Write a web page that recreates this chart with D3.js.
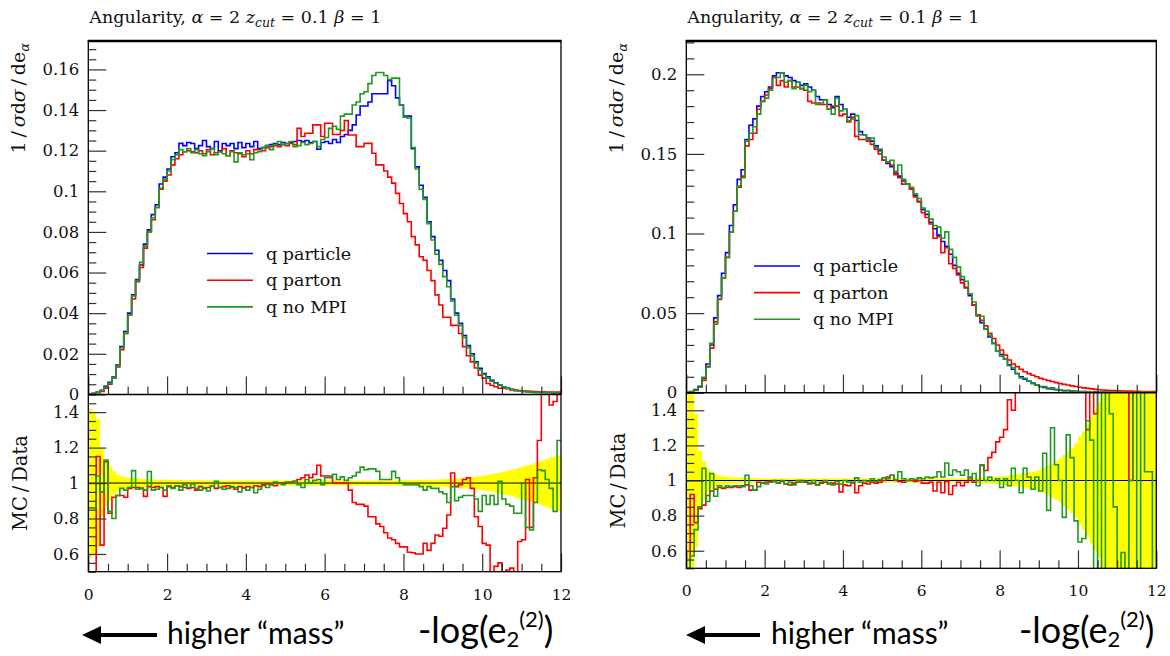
<!DOCTYPE html>
<html><head><meta charset="utf-8">
<script src="https://cdnjs.cloudflare.com/ajax/libs/d3/7.8.5/d3.min.js"></script>
<style>body{margin:0;background:#fff}svg{display:block}</style>
</head><body>
<svg id="chart" width="1170" height="656"></svg>
<script>
// ---------------- data ----------------
const xTickLabels = ["0","2","4","6","8","10","12"];
const legendLabels = ["q particle","q parton","q no MPI"];
const ratioTickValues = [0.6, 0.8, 1, 1.2, 1.4];
const leftMainTickValues = [0, 0.02, 0.04, 0.06, 0.08, 0.1, 0.12, 0.14, 0.16];
const rightMainTickValues = [0, 0.05, 0.1, 0.15, 0.2];

// left panel (120 bins of width 0.1 from 0 to 12)
const leftBlue = [
0.0003,0.0005,0.001,0.002,0.004,0.006,0.0085,0.0145,0.0235,0.031,
0.040,0.049,0.0566,0.0637,0.074,0.081,0.0885,0.0934,0.1036,0.107,
0.111,0.117,0.119,0.1236,0.1225,0.124,0.1235,0.121,0.1225,0.125,
0.122,0.121,0.1245,0.120,0.1235,0.1225,0.1235,0.121,0.124,0.1215,
0.1235,0.122,0.1245,0.121,0.1215,0.1225,0.123,0.1235,0.123,0.124,
0.1235,0.124,0.1245,0.125,0.1245,0.125,0.124,0.1245,0.1207,0.124,
0.1245,0.1235,0.1255,0.124,0.127,0.128,0.130,0.1327,0.1376,0.142,
0.142,0.144,0.148,0.148,0.148,0.148,0.1545,0.152,0.146,0.1425,
0.137,0.137,0.121,0.112,0.103,0.097,0.085,0.0777,0.071,0.066,
0.061,0.056,0.047,0.040,0.035,0.029,0.024,0.020,0.016,0.0128,
0.0103,0.0087,0.007,0.0057,0.0046,0.0038,0.003,0.0025,0.002,0.0018,
0.0015,0.0013,0.0012,0.001,0.001,0.0009,0.0008,0.0008,0.0007,0.0007];
const leftRed = [
0.0002,0.0004,0.001,0.0015,0.003,0.005,0.008,0.0135,0.022,0.030,
0.039,0.047,0.0555,0.0625,0.072,0.080,0.086,0.092,0.101,0.105,
0.108,0.113,0.116,0.118,0.1195,0.120,0.1195,0.119,0.120,0.1185,
0.1205,0.118,0.119,0.1195,0.121,0.1175,0.120,0.119,0.1185,0.117,
0.120,0.1185,0.1205,0.1205,0.120,0.1215,0.122,0.1225,0.122,0.123,
0.1225,0.1235,0.123,0.131,0.127,0.1286,0.1286,0.1327,0.1327,0.127,
0.1335,0.1335,0.128,0.128,0.130,0.1348,0.1277,0.1277,0.122,0.122,
0.1236,0.1236,0.1187,0.113,0.113,0.110,0.107,0.104,0.099,0.094,
0.089,0.085,0.0777,0.0736,0.0678,0.066,0.061,0.056,0.049,0.044,
0.038,0.038,0.034,0.034,0.030,0.0235,0.019,0.016,0.013,0.0095,
0.008,0.0054,0.0045,0.0038,0.003,0.003,0.0028,0.0022,0.002,0.0019,
0.0017,0.0016,0.0015,0.0014,0.0013,0.0013,0.0012,0.0012,0.0011,0.0011];
const leftGreen = [
0.0002,0.0004,0.001,0.0018,0.0035,0.0055,0.008,0.014,0.023,0.030,
0.039,0.0485,0.056,0.065,0.073,0.080,0.087,0.092,0.1015,0.106,
0.110,0.1155,0.118,0.1205,0.1195,0.121,0.119,0.1205,0.1185,0.1175,
0.1195,0.121,0.118,0.1195,0.1185,0.1175,0.1195,0.1145,0.119,0.118,
0.1185,0.1155,0.119,0.1195,0.1215,0.1225,0.1205,0.123,0.1245,0.123,
0.1235,0.1245,0.122,0.1225,0.124,0.123,0.1235,0.1245,0.122,0.1255,
0.1265,0.131,0.132,0.1305,0.137,0.138,0.138,0.1425,0.144,0.148,
0.149,0.153,0.157,0.1585,0.1585,0.157,0.155,0.1557,0.1557,0.1425,
0.1365,0.136,0.1215,0.111,0.101,0.096,0.084,0.076,0.069,0.064,
0.058,0.053,0.046,0.039,0.034,0.028,0.023,0.019,0.0155,0.012,
0.0098,0.008,0.0065,0.0055,0.0045,0.0037,0.003,0.0025,0.002,0.0018,
0.0015,0.0013,0.0012,0.0011,0.001,0.0009,0.0009,0.0008,0.0008,0.0007];
const leftRatioRed = [
0.45,0.45,1.15,0.65,1.12,0.83,0.92,0.93,0.93,0.92,
0.97,0.975,0.975,0.97,0.925,0.98,0.975,0.98,0.975,0.925,
0.98,0.975,0.985,0.98,0.975,0.97,0.975,0.96,0.98,0.97,
0.975,0.985,0.97,0.975,0.98,0.985,0.975,0.965,0.98,0.975,
0.98,0.975,0.985,0.98,0.99,0.995,0.99,0.985,1.0,1.0,
1.0,1.005,1.01,1.02,1.03,1.045,1.03,1.05,1.1,1.04,
1.04,1.04,1.0,1.0,1.0,1.0,0.96,0.89,0.88,0.88,
0.87,0.81,0.81,0.77,0.755,0.72,0.69,0.68,0.66,0.64,
0.64,0.61,0.607,0.60,0.60,0.66,0.62,0.66,0.707,0.70,
0.745,0.82,1.057,0.98,0.99,1.02,1.03,0.97,0.81,0.755,
0.66,0.65,0.45,0.53,0.55,0.45,0.51,0.52,0.45,0.67,
0.68,1.02,0.75,1.03,1.24,1.6,1.6,1.44,1.46,1.6];
const leftRatioGreen = [
0.86,0.86,1.04,0.95,1.13,0.84,0.80,0.93,0.97,0.96,
0.975,1.07,0.965,0.97,0.96,1.065,0.96,0.965,0.975,0.96,
0.985,0.97,0.985,0.96,0.99,0.975,0.995,0.97,0.96,0.975,
0.955,0.985,1.01,0.975,0.965,0.97,0.98,0.975,0.95,0.97,
0.96,0.975,0.945,0.965,0.985,0.975,0.99,1.005,1.0,0.99,
1.005,1.0,1.01,0.99,0.975,1.02,1.0,1.015,1.02,0.99,
1.03,1.03,1.05,1.02,1.035,1.015,1.03,1.04,1.06,1.09,
1.075,1.08,1.08,1.066,1.02,1.02,1.02,1.066,1.03,1.0,
0.99,0.99,0.99,0.99,0.98,0.96,0.98,0.97,0.97,0.95,
0.94,0.89,0.98,0.90,0.92,0.93,0.93,0.93,0.91,0.84,
0.93,0.88,0.93,0.88,1.01,0.91,0.88,0.87,0.83,0.83,
1.0,0.75,0.735,0.89,1.075,1.07,1.02,0.97,0.84,1.24];
const leftBand = [
0.42,0.40,0.36,0.19,0.13,0.095,0.066,0.047,0.038,0.032,
0.030,0.027,0.025,0.023,0.022,0.021,0.020,0.019,0.019,0.018,
0.018,0.017,0.017,0.017,0.016,0.016,0.016,0.016,0.016,0.015,
0.015,0.015,0.015,0.015,0.015,0.015,0.015,0.015,0.015,0.015,
0.015,0.015,0.015,0.014,0.014,0.014,0.014,0.014,0.014,0.014,
0.014,0.014,0.014,0.014,0.014,0.014,0.014,0.014,0.014,0.014,
0.014,0.014,0.014,0.014,0.014,0.014,0.014,0.014,0.014,0.014,
0.014,0.014,0.014,0.014,0.015,0.015,0.015,0.015,0.015,0.016,
0.016,0.016,0.017,0.017,0.018,0.018,0.019,0.019,0.020,0.021,
0.022,0.023,0.024,0.025,0.027,0.029,0.031,0.033,0.036,0.039,
0.041,0.045,0.049,0.054,0.059,0.064,0.069,0.075,0.081,0.087,
0.093,0.099,0.105,0.112,0.12,0.128,0.136,0.145,0.15,0.155];

// right panel
const rightBlue = [
0.0003,0.0008,0.002,0.004,0.009,0.018,0.030,0.047,0.061,0.075,
0.088,0.105,0.118,0.134,0.140,0.159,0.168,0.172,0.180,0.186,
0.189,0.192,0.199,0.201,0.201,0.199,0.198,0.196,0.195,0.193,
0.194,0.192,0.190,0.186,0.184,0.184,0.181,0.179,0.186,0.181,
0.178,0.173,0.175,0.171,0.164,0.162,0.160,0.158,0.155,0.152,
0.146,0.144,0.142,0.138,0.136,0.133,0.131,0.128,0.124,0.120,
0.115,0.112,0.107,0.103,0.099,0.095,0.092,0.087,0.080,0.075,
0.071,0.066,0.061,0.055,0.049,0.044,0.040,0.035,0.031,0.026,
0.024,0.021,0.0175,0.0147,0.0121,0.010,0.0085,0.0072,0.006,0.0048,
0.0039,0.0033,0.0028,0.0023,0.0019,0.0016,0.0014,0.0012,0.001,0.0009,
0.0008,0.0007,0.0006,0.0005,0.0005,0.0004,0.0004,0.0003,0.0003,0.0003,
0.0002,0.0002,0.0002,0.0002,0.0002,0.0002,0.0001,0.0001,0.0001,0.0001];
const rightRed = [
0.0001,0.0007,0.0015,0.0034,0.0077,0.0165,0.028,0.0445,0.0585,0.072,
0.085,0.101,0.114,0.129,0.136,0.155,0.159,0.163,0.178,0.183,
0.187,0.191,0.198,0.193,0.196,0.192,0.196,0.192,0.192,0.191,
0.190,0.183,0.182,0.182,0.181,0.181,0.178,0.180,0.180,0.174,
0.175,0.170,0.173,0.161,0.159,0.159,0.158,0.156,0.153,0.150,
0.146,0.145,0.143,0.137,0.135,0.131,0.131,0.128,0.123,0.120,
0.113,0.110,0.106,0.097,0.098,0.088,0.091,0.081,0.078,0.074,
0.069,0.066,0.062,0.055,0.049,0.0455,0.042,0.0373,0.034,0.030,
0.0268,0.0237,0.0205,0.018,0.0164,0.0147,0.0132,0.012,0.011,0.010,
0.009,0.0083,0.0076,0.007,0.0063,0.0057,0.0052,0.0048,0.0043,0.0039,
0.0034,0.003,0.0027,0.0024,0.0021,0.0019,0.0017,0.0015,0.0014,0.0013,
0.0012,0.0011,0.001,0.001,0.0009,0.0009,0.0008,0.0008,0.0008,0.0007];
const rightGreen = [
0.0002,0.0005,0.0014,0.0034,0.0096,0.016,0.031,0.043,0.059,0.072,
0.085,0.101,0.114,0.130,0.135,0.158,0.163,0.167,0.175,0.183,
0.185,0.190,0.198,0.198,0.201,0.195,0.196,0.191,0.195,0.191,
0.193,0.189,0.190,0.181,0.182,0.184,0.178,0.175,0.185,0.177,
0.178,0.171,0.172,0.174,0.162,0.162,0.159,0.160,0.154,0.153,
0.148,0.145,0.146,0.139,0.143,0.134,0.131,0.129,0.125,0.122,
0.116,0.114,0.109,0.105,0.104,0.097,0.101,0.090,0.085,0.079,
0.073,0.070,0.062,0.057,0.048,0.048,0.040,0.036,0.031,0.026,
0.023,0.021,0.017,0.0157,0.012,0.0093,0.0091,0.0073,0.0057,0.0049,
0.0037,0.0038,0.0023,0.003,0.0021,0.0016,0.0011,0.0015,0.0011,0.0007,
0.0005,0.0005,0.0008,0.0006,0.0002,0.0006,0.0002,0.0006,0.0004,0.0003,
0.0001,0.0001,0.0001,0.0002,0.0003,0.0001,0.0002,0.0002,0.0002,0.0001];
const rightRatioRed = [
0.45,0.92,0.76,0.84,0.86,0.915,0.94,0.95,0.96,0.955,
0.96,0.96,0.965,0.96,0.97,0.975,0.945,0.945,0.99,0.985,
0.99,0.995,1.0,0.985,0.995,0.98,0.975,0.985,0.99,1.0,
0.99,0.98,0.985,0.975,0.985,0.99,0.98,0.985,0.98,0.935,
0.975,0.97,0.99,0.93,0.97,0.985,0.98,0.99,0.985,0.99,
1.0,1.02,1.03,1.0,0.995,0.99,1.0,1.0,0.995,1.0,
0.985,0.985,0.99,0.94,0.99,0.93,0.995,0.92,0.97,0.99,
0.97,0.99,1.02,0.99,1.0,1.085,1.057,1.13,1.16,1.22,
1.246,1.29,1.46,1.40,1.6,1.6,1.6,1.6,1.6,1.6,
1.6,1.6,1.6,1.6,1.6,1.6,1.6,1.6,1.6,1.6,
1.6,1.6,1.29,1.6,1.38,1.6,1.6,1.6,1.6,1.6,
1.6,1.6,1.6,1.0,1.6,1.6,1.6,1.6,1.6,1.6];
const rightRatioGreen = [
0.5,0.57,0.72,0.85,1.07,0.88,1.04,0.91,0.97,0.96,
0.97,0.965,0.97,0.97,0.965,1.03,0.97,0.945,0.965,0.985,
0.98,0.99,0.995,0.985,1.0,0.98,0.99,0.975,1.0,0.99,
0.995,0.985,1.0,0.975,0.99,1.0,0.985,0.975,0.995,0.98,
1.0,0.99,0.985,1.015,0.99,1.0,0.995,1.01,0.995,1.005,
1.015,1.01,1.03,1.005,1.05,1.01,1.0,1.01,1.005,1.015,
1.01,1.02,1.015,1.02,1.05,1.02,1.10,1.03,1.06,1.05,
1.03,1.06,1.01,1.04,0.97,1.09,1.0,1.02,1.0,1.01,
0.96,1.01,0.97,1.07,1.0,0.93,1.07,1.02,0.95,1.02,
0.94,1.155,0.83,1.3,1.09,1.0,0.79,1.26,1.13,0.77,
0.65,0.67,1.34,1.23,0.45,1.6,0.45,1.6,1.38,0.85,
0.45,0.59,0.45,1.0,1.6,0.45,1.6,1.05,1.05,0.45];
const rightBand = [
0.6,0.5,0.38,0.17,0.11,0.066,0.047,0.035,0.028,0.024,
0.021,0.019,0.018,0.017,0.016,0.015,0.014,0.014,0.013,0.013,
0.012,0.012,0.012,0.012,0.012,0.012,0.012,0.012,0.012,0.012,
0.011,0.011,0.011,0.011,0.011,0.011,0.011,0.011,0.011,0.011,
0.011,0.011,0.011,0.011,0.011,0.011,0.011,0.011,0.011,0.011,
0.011,0.011,0.011,0.011,0.011,0.011,0.011,0.011,0.011,0.011,
0.011,0.011,0.011,0.011,0.011,0.011,0.011,0.011,0.011,0.011,
0.012,0.012,0.013,0.014,0.015,0.016,0.017,0.018,0.019,0.02,
0.024,0.026,0.028,0.031,0.034,0.037,0.041,0.045,0.05,0.056,
0.062,0.072,0.085,0.095,0.11,0.125,0.145,0.165,0.185,0.21,
0.25,0.28,0.32,0.36,0.40,0.44,0.5,0.55,0.6,0.6,
0.6,0.6,0.6,0.6,0.6,0.6,0.6,0.6,0.6,0.6];

// ---------------- drawing ----------------
const svg = d3.select("#chart");
const serif = "'DejaVu Serif', 'Liberation Serif', serif";
const sans = "Lato, 'Open Sans', sans-serif";
const colors = { blue: "#0000ff", red: "#ff0000", green: "#1e9a1e", band: "#ffff00" };

const panels = [
  { id: "L", x0: 88.3, x1: 561, top: 41, mid: 394.4, bot: 571.7, ymax: 0.174,
    majors: leftMainTickValues, minorStep: 0.005,
    blue: leftBlue, red: leftRed, green: leftGreen,
    rRed: leftRatioRed, rGreen: leftRatioGreen, band: leftBand,
    legend: { x: 207, y: 253.5, dy: 26.7 },
    arrow: { tip: 82, tail: 157 }, higherX: 167, logX: 418 },
  { id: "R", x0: 686.3, x1: 1156.3, top: 41, mid: 392.7, bot: 568.3, ymax: 0.2209,
    majors: rightMainTickValues, minorStep: 0.01,
    blue: rightBlue, red: rightRed, green: rightGreen,
    rRed: rightRatioRed, rGreen: rightRatioGreen, band: rightBand,
    legend: { x: 754, y: 266, dy: 26.6 },
    arrow: { tip: 686, tail: 760 }, higherX: 771, logX: 1019 }
];

const edges = d3.range(121).map(i => i / 10);

panels.forEach(p => {
  const g = svg.append("g");
  const x = d3.scaleLinear().domain([0, 12]).range([p.x0, p.x1]);
  const y = d3.scaleLinear().domain([0, p.ymax]).range([p.mid, p.top]);
  const yr = d3.scaleLinear().domain([0.5, 1.5]).range([p.bot, p.mid]);

  const defs = g.append("defs");
  defs.append("clipPath").attr("id", "clipMain" + p.id).append("rect")
    .attr("x", p.x0).attr("y", p.top).attr("width", p.x1 - p.x0).attr("height", p.mid - p.top);
  defs.append("clipPath").attr("id", "clipRatio" + p.id).append("rect")
    .attr("x", p.x0).attr("y", p.mid).attr("width", p.x1 - p.x0).attr("height", p.bot - p.mid);

  const stepPts = vals => vals.map((v, i) => [edges[i], v]).concat([[12, vals[vals.length - 1]]]);

  // ratio band
  const bandPts = p.band.map((e, i) => [edges[i], e]).concat([[12, p.band[p.band.length - 1]]]);
  g.append("path").attr("clip-path", `url(#clipRatio${p.id})`)
    .attr("d", d3.area().curve(d3.curveStepAfter)
      .x(d => x(d[0])).y0(d => yr(1 - d[1])).y1(d => yr(1 + d[1]))(bandPts))
    .attr("fill", colors.band);

  // reference line
  g.append("line").attr("x1", p.x0).attr("x2", p.x1).attr("y1", yr(1)).attr("y2", yr(1))
    .attr("stroke", "#000").attr("stroke-width", 1);

  const ratioLine = d3.line().curve(d3.curveStepAfter).x(d => x(d[0])).y(d => yr(d[1]));
  [[p.rRed, colors.red], [p.rGreen, colors.green]].forEach(([vals, c]) => {
    g.append("path").attr("clip-path", `url(#clipRatio${p.id})`)
      .attr("d", ratioLine(stepPts(vals))).attr("fill", "none")
      .attr("stroke", c).attr("stroke-width", 1.6);
  });

  // main histograms
  const mainLine = d3.line().curve(d3.curveStepAfter).x(d => x(d[0])).y(d => y(d[1]));
  [[p.blue, colors.blue], [p.red, colors.red], [p.green, colors.green]].forEach(([vals, c]) => {
    g.append("path").attr("clip-path", `url(#clipMain${p.id})`)
      .attr("d", mainLine(stepPts(vals))).attr("fill", "none")
      .attr("stroke", c).attr("stroke-width", 1.6);
  });

  // axes / ticks
  const xMajor = [0, 2, 4, 6, 8, 10, 12];
  const xMinor = d3.range(0.5, 12, 0.5).filter(v => v % 2 !== 0);
  const styleAxis = sel => {
    sel.select(".domain").remove();
    sel.selectAll(".tick line").attr("stroke", "#333").attr("stroke-width", 1.2);
    sel.selectAll("text").attr("fill", "#111").attr("font-family", serif);
  };
  [p.mid, p.bot].forEach((yy, k) => {
    g.append("g").attr("transform", `translate(0,${yy})`)
      .call(d3.axisBottom(x).tickValues(xMinor).tickSize(-8).tickFormat("")).call(styleAxis);
    const ax = g.append("g").attr("transform", `translate(0,${yy})`)
      .call(d3.axisBottom(x).tickValues(xMajor).tickSize(-18).tickPadding(17)
        .tickFormat((d, i) => k === 1 ? xTickLabels[i] : "")).call(styleAxis);
    ax.selectAll("text").attr("font-size", 15.5);
  });

  const mainMinor = d3.range(0, p.ymax, p.minorStep).filter(v => !p.majors.some(m => Math.abs(m - v) < 1e-9));
  g.append("g").attr("transform", `translate(${p.x0},0)`)
    .call(d3.axisLeft(y).tickValues(mainMinor).tickSize(-8).tickFormat("")).call(styleAxis);
  g.append("g").attr("transform", `translate(${p.x0},0)`)
    .call(d3.axisLeft(y).tickValues(p.majors).tickSize(-18).tickPadding(9)
      .tickFormat(d => String(+d.toFixed(3)))).call(styleAxis)
    .selectAll("text").attr("font-size", 16.5);

  const ratioMinor = d3.range(0.5, 1.5001, 0.05).filter(v => !ratioTickValues.some(m => Math.abs(m - v) < 1e-9));
  g.append("g").attr("transform", `translate(${p.x0},0)`)
    .call(d3.axisLeft(yr).tickValues(ratioMinor).tickSize(-8).tickFormat("")).call(styleAxis);
  g.append("g").attr("transform", `translate(${p.x0},0)`)
    .call(d3.axisLeft(yr).tickValues(ratioTickValues).tickSize(-18).tickPadding(9)
      .tickFormat(d => String(d))).call(styleAxis)
    .selectAll("text").attr("font-size", 16.5);

  // frames
  g.append("rect").attr("x", p.x0).attr("y", p.top).attr("width", p.x1 - p.x0).attr("height", p.bot - p.top)
    .attr("fill", "none").attr("stroke", "#000").attr("stroke-width", 1.3);
  g.append("line").attr("x1", p.x0).attr("x2", p.x1).attr("y1", p.mid).attr("y2", p.mid)
    .attr("stroke", "#000").attr("stroke-width", 1.5);
  g.append("line").attr("x1", p.x0 - 0.6).attr("x2", p.x1 + 0.6).attr("y1", p.top).attr("y2", p.top)
    .attr("stroke", "#000").attr("stroke-width", 2.4);

  // title
  const t = g.append("text").attr("x", p.x0 + 1).attr("y", 23).attr("font-family", serif)
    .attr("font-size", 17.5).attr("fill", "#111");
  t.append("tspan").text("Angularity, ");
  t.append("tspan").attr("font-style", "italic").text("α");
  t.append("tspan").text(" = 2 ");
  t.append("tspan").attr("font-style", "italic").text("z");
  t.append("tspan").attr("font-style", "italic").attr("font-size", 12.5).attr("dy", 4).text("cut");
  t.append("tspan").attr("dy", -4).text(" = 0.1 ");
  t.append("tspan").attr("font-style", "italic").text("β");
  t.append("tspan").text(" = 1");

  // y titles
  const yt = g.append("text").attr("transform", `translate(${p.x0 - 63},43) rotate(-90)`)
    .attr("text-anchor", "end").attr("font-family", serif).attr("font-size", 19).attr("fill", "#111");
  yt.append("tspan").text("1\u2009/\u2009");
  yt.append("tspan").attr("font-style", "italic").text("σ");
  yt.append("tspan").text("d");
  yt.append("tspan").attr("font-style", "italic").text("σ");
  yt.append("tspan").text("\u2009/\u2009de");
  yt.append("tspan").attr("font-style", "italic").attr("font-size", 13).attr("dy", 4).text("α");

  g.append("text").attr("transform", `translate(${p.x0 - 61},${yr(1)}) rotate(-90)`)
    .attr("text-anchor", "middle").attr("font-family", serif).attr("font-size", 19.5).attr("fill", "#111")
    .text("MC\u2009/\u2009Data");

  // legend
  legendLabels.forEach((lab, i) => {
    const ly = p.legend.y + i * p.legend.dy;
    g.append("line").attr("x1", p.legend.x).attr("x2", p.legend.x + 46).attr("y1", ly).attr("y2", ly)
      .attr("stroke", [colors.blue, colors.red, colors.green][i]).attr("stroke-width", 1.6);
    g.append("text").attr("x", p.legend.x + 59).attr("y", ly + 6).attr("font-family", serif)
      .attr("font-size", 17.5).attr("fill", "#111").text(lab);
  });

  // bottom annotations
  const ay = 635;
  g.append("line").attr("x1", p.arrow.tail).attr("x2", p.arrow.tip + 16).attr("y1", ay).attr("y2", ay)
    .attr("stroke", "#000").attr("stroke-width", 4);
  g.append("path").attr("d", `M${p.arrow.tip},${ay} L${p.arrow.tip + 19},${ay - 9} L${p.arrow.tip + 19},${ay + 9} Z`)
    .attr("fill", "#000");
  g.append("text").attr("x", p.higherX).attr("y", 644).attr("font-family", sans).attr("font-size", 30)
    .attr("fill", "#000").text("higher “mass”");
  const lt = g.append("text").attr("x", p.logX).attr("y", 643).attr("font-family", sans)
    .attr("font-size", 36).attr("fill", "#000");
  lt.append("tspan").text("-log(e");
  lt.append("tspan").attr("font-size", 22).attr("dy", 4).text("2");
  lt.append("tspan").attr("font-size", 22).attr("dy", -20).text("(2)");
  lt.append("tspan").attr("dy", 16).text(")");
});
</script>
</body></html>
